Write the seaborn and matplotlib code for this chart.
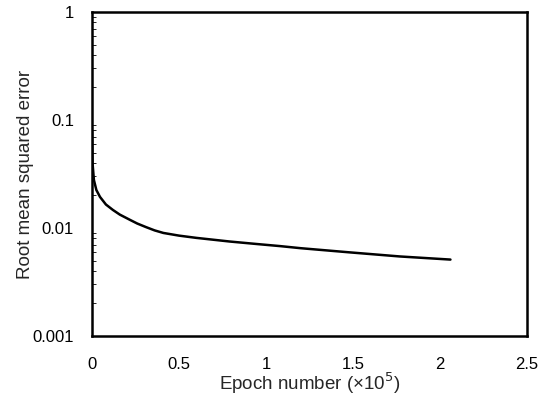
import matplotlib
matplotlib.use("Agg")
import numpy as np
import pandas as pd
import matplotlib.pyplot as plt
import seaborn as sns

# Values (epoch in units of 1e5)
epochs = [0.0, 0.003, 0.011, 0.025, 0.046, 0.08, 0.12, 0.16, 0.218, 0.26,
          0.31, 0.36, 0.41, 0.5, 0.60, 0.79, 0.95, 1.08, 1.2, 1.48, 1.77, 2.06]
rmse = [0.08, 0.04, 0.0278, 0.0225, 0.0194, 0.0165, 0.0147, 0.0133, 0.0119,
        0.011, 0.0102, 0.0095, 0.0090, 0.0085, 0.0081, 0.0075, 0.0071, 0.0068,
        0.0065, 0.00595, 0.00545, 0.0051]

x_ticks = [0, 0.5, 1, 1.5, 2, 2.5]
x_tick_labels = ["0", "0.5", "1", "1.5", "2", "2.5"]
y_ticks = [0.001, 0.01, 0.1, 1]
y_tick_labels = ["0.001", "0.01", "0.1", "1"]

df = pd.DataFrame({"epoch": epochs, "rmse": rmse})

sns.set_style("white")
plt.rcParams["font.family"] = ["Liberation Sans", "DejaVu Sans"]

fig = plt.figure(figsize=(5.48, 4.03), dpi=100)
ax = fig.add_axes([92 / 548, 1 - 336 / 403, (527 - 92) / 548, (336 - 12) / 403])

sns.lineplot(data=df, x="epoch", y="rmse", color="black", linewidth=1.8, ax=ax)

ax.set_yscale("log")
ax.set_xlim(0, 2.5)
ax.set_ylim(0.001, 1)
ax.set_xticks(x_ticks)
ax.set_xticklabels(x_tick_labels)
ax.set_yticks(y_ticks)
ax.set_yticklabels(y_tick_labels)
ax.tick_params(axis="both", which="both", direction="in", labelsize=12,
               colors="black", length=0)
ax.tick_params(axis="y", which="major", pad=13)
ax.tick_params(axis="y", which="minor", length=3, width=0.6, left=True)
ax.tick_params(axis="x", pad=15)

for s in ax.spines.values():
    s.set_color("black")
    s.set_linewidth(1.8)

ax.set_xlabel("Epoch number (×10$^5$)", fontsize=13.5)
ax.set_ylabel("Root mean squared error", fontsize=13.5)
ax.xaxis.set_label_coords(0.5, -0.108)
ax.yaxis.set_label_coords(-0.133, 0.5)

fig.savefig("out.png", dpi=100)
